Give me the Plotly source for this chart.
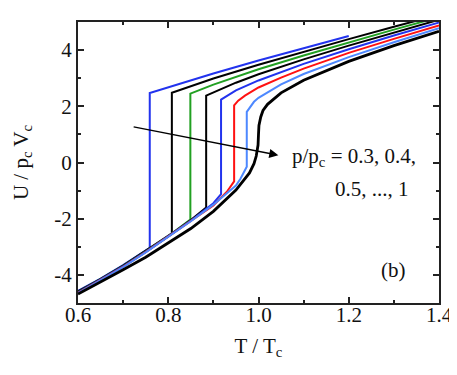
import plotly.graph_objects as go

# p/pc values and colors of the curves
p_labels = ["0.3", "0.4", "0.5", "0.6", "0.7", "0.8", "0.9", "1.0"]

p03_T = [0.60, 0.65, 0.70, 0.759, 0.759, 0.80, 0.90, 1.00, 1.10, 1.20]
p03_U = [-4.57, -4.13, -3.65, -3.04, 2.47, 2.68, 3.17, 3.63, 4.07, 4.50]

p04_T = [0.60, 0.65, 0.70, 0.75, 0.808, 0.808, 0.90, 1.00, 1.10, 1.20, 1.30, 1.40]
p04_U = [-4.59, -4.15, -3.67, -3.14, -2.52, 2.48, 2.99, 3.48, 3.94, 4.39, 4.83, 5.26]

p05_T = [0.60, 0.65, 0.70, 0.75, 0.80, 0.849, 0.849, 0.90, 1.00, 1.10, 1.20, 1.30, 1.40]
p05_U = [-4.61, -4.16, -3.68, -3.16, -2.62, -2.03, 2.45, 2.77, 3.32, 3.81, 4.28, 4.73, 5.17]

p06_T = [0.60, 0.65, 0.70, 0.75, 0.80, 0.85, 0.884, 0.884, 0.91, 0.95, 1.00, 1.10, 1.20, 1.30, 1.40]
p06_U = [-4.62, -4.17, -3.69, -3.17, -2.63, -2.05, -1.60, 2.38, 2.57, 2.84, 3.14, 3.67, 4.16, 4.62, 5.08]

p07_T = [0.60, 0.65, 0.70, 0.75, 0.80, 0.85, 0.90, 0.917, 0.917, 0.95, 1.00, 1.10, 1.20, 1.30, 1.40]
p07_U = [-4.63, -4.18, -3.70, -3.18, -2.64, -2.07, -1.45, -1.13, 2.24, 2.57, 2.92, 3.51, 4.03, 4.52, 4.98]

p08_T = [0.60, 0.65, 0.70, 0.75, 0.80, 0.85, 0.90, 0.93, 0.946, 0.946, 0.955, 0.97, 1.00, 1.05, 1.10, 1.20, 1.30, 1.40]
p08_U = [-4.64, -4.19, -3.71, -3.19, -2.65, -2.08, -1.53, -1.04, -0.67, 2.03, 2.20, 2.38, 2.67, 3.02, 3.34, 3.90, 4.40, 4.88]

p09_T = [0.60, 0.65, 0.70, 0.75, 0.80, 0.85, 0.90, 0.95, 0.96, 0.974, 0.974, 0.98, 0.99, 1.00, 1.05, 1.10, 1.20, 1.30, 1.40]
p09_U = [-4.65, -4.20, -3.72, -3.20, -2.66, -2.09, -1.50, -0.82, -0.58, -0.15, 1.80, 1.95, 2.16, 2.30, 2.78, 3.15, 3.75, 4.28, 4.78]

p10_T = [0.60, 0.65, 0.70, 0.75, 0.80, 0.85, 0.90, 0.95, 0.98, 0.99, 0.995, 0.999, 1.00, 1.001, 1.005, 1.01, 1.02, 1.05, 1.10, 1.20, 1.30, 1.40]
p10_U = [-4.68, -4.26, -3.82, -3.37, -2.87, -2.35, -1.74, -0.98, -0.37, -0.04, 0.23, 0.62, 1.00, 1.32, 1.62, 1.85, 2.07, 2.48, 2.93, 3.60, 4.16, 4.67]

curves_T = [p03_T, p04_T, p05_T, p06_T, p07_T, p08_T, p09_T, p10_T]
curves_U = [p03_U, p04_U, p05_U, p06_U, p07_U, p08_U, p09_U, p10_U]
colors = ["#2233ee", "#000000", "#22a022", "#000000", "#2233ee", "#ff1111", "#4d88ff", "#000000"]
widths = [2, 2, 2, 2, 2, 2, 2, 2.8]

x_ticks = [0.6, 0.8, 1.0, 1.2, 1.4]
x_ticklabels = ["0.6", "0.8", "1.0", "1.2", "1.4"]
y_ticks = [-4, -2, 0, 2, 4]
y_ticklabels = ["-4", "-2", "0", "2", "4"]

FONT = "Liberation Serif, Times New Roman, DejaVu Serif, serif"
TXT = "#111111"

fig = go.Figure()
for T, U, c, w, lab in zip(curves_T, curves_U, colors, widths, p_labels):
    fig.add_trace(go.Scatter(x=T, y=U, mode="lines", line=dict(color=c, width=w),
                             name="p/pc=" + lab, showlegend=False))

axis_common = dict(
    showline=True, linecolor="#222222", linewidth=2, mirror="allticks",
    ticks="inside", ticklen=6, tickwidth=1.5, tickcolor="#222222",
    showgrid=False, zeroline=False,
    tickfont=dict(family=FONT, size=21, color=TXT),
)

fig.update_xaxes(
    range=[0.6, 1.4], tickvals=x_ticks, ticktext=x_ticklabels,
    ticklabelstandoff=-8,
    minor=dict(dtick=0.1, ticks="inside", ticklen=3, tickwidth=1.5, tickcolor="#222222", showgrid=False),
    title=dict(text="T / T<sub>c</sub>", font=dict(family=FONT, size=21, color=TXT), standoff=12),
    **axis_common,
)
fig.update_yaxes(
    range=[-5, 5], tickvals=y_ticks, ticktext=y_ticklabels,
    minor=dict(dtick=1, ticks="inside", ticklen=3, tickwidth=1.5, tickcolor="#222222", showgrid=False),
    title=dict(text="U / p<sub>c</sub> V<sub>c</sub>", font=dict(family=FONT, size=21, color=TXT), standoff=20),
    **axis_common,
)

# arrow
fig.add_annotation(x=1.044, y=0.26, ax=0.720, ay=1.28, xref="x", yref="y", axref="x", ayref="y",
                   text="", showarrow=True, arrowhead=2, arrowsize=1.3, arrowwidth=1.4, arrowcolor="#000000")
fig.add_annotation(x=1.070, y=0.19, xref="x", yref="y", xanchor="left", yanchor="middle",
                   text="p/p<sub>c</sub> = 0.3, 0.4,", showarrow=False,
                   font=dict(family=FONT, size=21, color=TXT))
fig.add_annotation(x=1.338, y=-0.94, xref="x", yref="y", xanchor="right", yanchor="middle",
                   text="0.5, ..., 1", showarrow=False,
                   font=dict(family=FONT, size=21, color=TXT))
fig.add_annotation(x=1.299, y=-3.84, xref="x", yref="y", xanchor="center", yanchor="middle",
                   text="(b)", showarrow=False,
                   font=dict(family=FONT, size=21, color=TXT))

fig.update_layout(
    width=457, height=375,
    margin=dict(l=69, r=20, t=12, b=80),
    plot_bgcolor="white", paper_bgcolor="white",
    font=dict(family=FONT, color=TXT),
)

fig.write_html("out.html")
